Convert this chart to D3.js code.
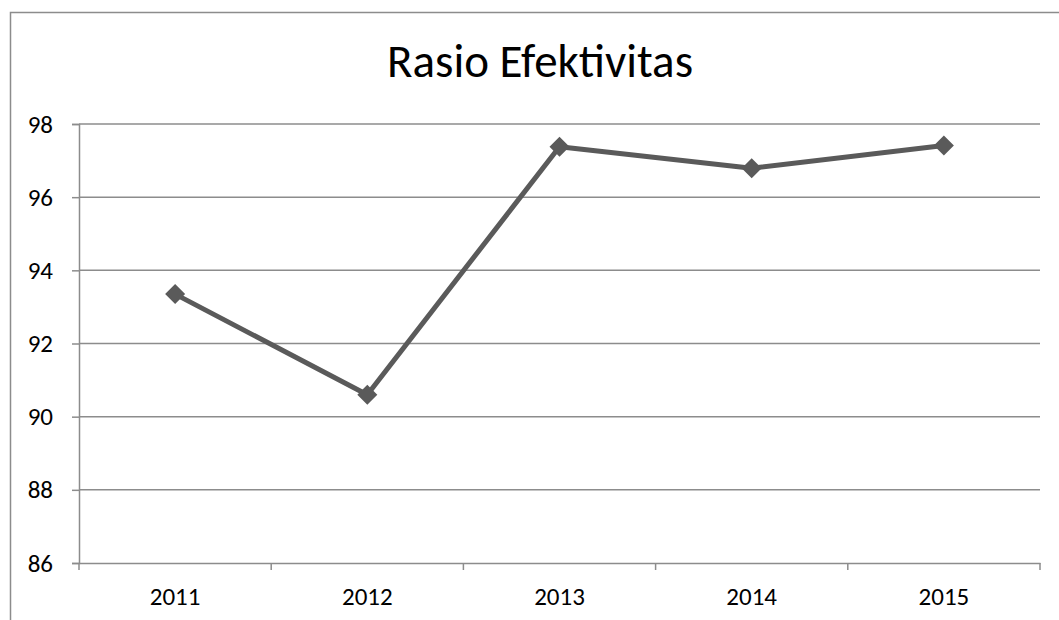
<!DOCTYPE html>
<html>
<head>
<meta charset="utf-8">
<script src="https://cdn.jsdelivr.net/npm/d3@7"></script>
<style>
  body { margin: 0; background: #fff; }
  svg { display: block; }
</style>
</head>
<body>
<div id="chartContainer"></div>
<script>
const years = ["2011", "2012", "2013", "2014", "2015"];
const ratios = [93.35, 90.6, 97.38, 96.79, 97.41];
const yTicks = [86, 88, 90, 92, 94, 96, 98];

const data = years.map((y, i) => ({ year: y, value: ratios[i] }));

const FONT = "Carlito, Calibri, 'Open Sans', sans-serif";
const W = 1059, H = 620;
const margin = { top: 124, right: 19, bottom: 57, left: 79 };
const width = W - margin.left - margin.right;
const height = H - margin.top - margin.bottom;

const svg = d3.select("#chartContainer")
  .append("svg")
  .attr("width", W)
  .attr("height", H)
  .style("font-family", FONT);

// outer frame
svg.append("rect")
  .attr("x", 10.5)
  .attr("y", 12.5)
  .attr("width", W + 20)
  .attr("height", H + 20)
  .attr("fill", "none")
  .attr("stroke", "#8c8c8c")
  .attr("stroke-width", 1.5);

svg.append("text")
  .attr("x", 540)
  .attr("y", 77)
  .attr("text-anchor", "middle")
  .style("font-family", FONT)
  .style("font-size", "47px")
  .attr("fill", "#000")
  .text("Rasio Efektivitas");

const g = svg.append("g")
  .attr("transform", `translate(${margin.left}, ${margin.top})`);

const xScale = d3.scaleBand().domain(years).range([0, width]);
const yScale = d3.scaleLinear().domain([86, 98]).range([height, 0]);

// gridlines
g.selectAll(".grid")
  .data(yTicks.slice(1))
  .enter()
  .append("line")
  .attr("x1", 0)
  .attr("x2", width)
  .attr("y1", d => yScale(d))
  .attr("y2", d => yScale(d))
  .attr("stroke", "#8c8c8c")
  .attr("stroke-width", 1.5);

// y axis
const yAxis = g.append("g")
  .call(d3.axisLeft(yScale).tickValues(yTicks).tickSize(7).tickPadding(19));
yAxis.select(".domain").attr("stroke", "#8c8c8c").attr("stroke-width", 1.5);
yAxis.selectAll(".tick line").attr("stroke", "#8c8c8c").attr("stroke-width", 1.5);
yAxis.selectAll("text")
  .style("font-family", FONT)
  .style("font-size", "25px")
  .attr("fill", "#000");

// x axis
const xAxis = g.append("g")
  .attr("transform", `translate(0, ${height})`)
  .call(d3.axisBottom(xScale).tickSize(0).tickPadding(24));
xAxis.select(".domain").attr("stroke", "#8c8c8c").attr("stroke-width", 1.5);
xAxis.selectAll("text")
  .style("font-family", FONT)
  .style("font-size", "25px")
  .attr("fill", "#000");

// category boundary ticks
const bounds = years.map(y => xScale(y)).concat([width]);
g.selectAll(".xtick")
  .data(bounds)
  .enter()
  .append("line")
  .attr("x1", d => d)
  .attr("x2", d => d)
  .attr("y1", height)
  .attr("y2", height + 7)
  .attr("stroke", "#8c8c8c")
  .attr("stroke-width", 1.5);

const cx = d => xScale(d.year) + xScale.bandwidth() / 2;

g.append("path")
  .datum(data)
  .attr("fill", "none")
  .attr("stroke", "#5a5a5a")
  .attr("stroke-width", 5)
  .attr("stroke-linejoin", "round")
  .attr("d", d3.line().x(cx).y(d => yScale(d.value)));

g.selectAll(".marker")
  .data(data)
  .enter()
  .append("path")
  .attr("transform", d => `translate(${cx(d)}, ${yScale(d.value)})`)
  .attr("d", "M0,-10L10,0L0,10L-10,0Z")
  .attr("fill", "#5a5a5a");
</script>
</body>
</html>
